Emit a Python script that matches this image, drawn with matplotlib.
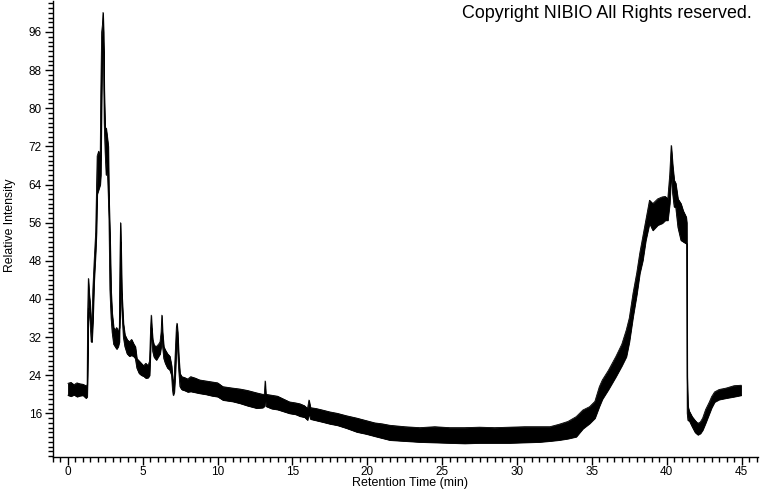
import matplotlib
matplotlib.use("Agg")
import matplotlib.pyplot as plt
from matplotlib.ticker import MultipleLocator, FixedLocator

# Retention time (min) and the observed lower / upper edge of the noisy trace (relative intensity)
time_min = [
    0.00, 0.20, 0.40, 0.60, 0.80, 1.00, 1.20, 1.28, 1.31, 1.36, 1.42, 1.48, 1.55, 1.60,
    1.66, 1.75, 1.85, 1.90, 1.95, 2.05, 2.15, 2.19, 2.25, 2.30, 2.34, 2.38, 2.42, 2.48,
    2.55, 2.62, 2.69, 2.74, 2.80, 2.88, 2.95, 3.05, 3.15, 3.25, 3.35, 3.43, 3.48, 3.51,
    3.55, 3.60, 3.70, 3.80, 3.95, 4.10, 4.25, 4.40, 4.50, 4.60, 4.75, 4.90, 5.05, 5.20,
    5.35, 5.45, 5.52, 5.56, 5.60, 5.66, 5.75, 5.90, 6.05, 6.15, 6.22, 6.27, 6.32, 6.40,
    6.50, 6.65, 6.80, 6.92, 6.98, 7.03, 7.10, 7.18, 7.24, 7.28, 7.33, 7.40, 7.48, 7.60,
    7.80, 8.00, 8.20, 8.50, 8.80, 9.20, 9.60, 10.00, 10.35, 11.00, 11.50, 12.00, 12.60,
    13.00, 13.12, 13.17, 13.22, 13.60, 14.00, 14.40, 14.80, 15.20, 15.50, 15.80, 16.00,
    16.10, 16.20, 16.60, 17.00, 17.50, 18.00, 18.60, 19.30, 19.90, 20.50, 21.00, 21.50,
    22.50, 23.50, 24.50, 25.50, 26.50, 27.50, 28.50, 29.50, 30.50, 31.50, 32.20, 32.80,
    33.40, 33.95, 34.40, 34.85, 35.20, 35.50, 35.70, 36.10, 36.60, 37.00, 37.30, 37.50,
    37.75, 38.00, 38.20, 38.40, 38.60, 38.85, 39.07, 39.40, 39.70, 39.90, 40.07, 40.20,
    40.30, 40.40, 40.50, 40.60, 40.75, 40.95, 41.10, 41.30, 41.34, 41.37, 41.42, 41.50,
    41.70, 41.90, 42.08, 42.25, 42.40, 42.60, 42.85, 43.00, 43.20, 43.50, 43.97, 44.50,
    44.97,
]
band_low = [
    19.8, 19.6, 19.9, 19.5, 19.7, 19.8, 19.2, 19.5, 24.0, 38.0, 37.0, 35.0, 31.0, 31.0,
    35.0, 44.0, 50.0, 54.0, 62.0, 63.0, 64.0, 66.0, 83.0, 94.0, 95.0, 90.0, 77.0, 71.0,
    66.0, 68.0, 62.0, 56.5, 42.0, 36.0, 33.0, 30.5, 30.0, 29.5, 30.0, 31.0, 40.0, 52.0,
    42.0, 37.6, 32.0, 30.0, 28.5, 28.0, 28.2, 27.9, 27.5, 25.5, 24.4, 24.0, 23.8, 23.4,
    23.5, 24.0, 30.0, 34.0, 32.0, 29.0, 27.8, 27.2, 28.0, 28.5, 30.0, 33.0, 30.0, 27.5,
    26.5, 25.5, 25.1, 24.0, 21.0, 19.8, 20.5, 25.0, 30.0, 33.0, 29.0, 25.0, 21.6, 21.0,
    20.8, 20.5, 20.6, 20.4, 20.2, 20.0, 19.7, 19.5, 18.8, 18.5, 18.1, 17.6, 17.1,
    17.2, 17.5, 20.0, 17.5, 17.0, 16.8, 16.4, 16.0, 15.8, 15.4, 15.2, 14.6,
    16.0, 14.8, 14.5, 14.2, 13.8, 13.5, 12.9, 12.1, 11.7, 11.2, 10.8, 10.4,
    10.2, 10.0, 9.9, 9.8, 9.7, 9.8, 9.8, 9.8, 9.9, 10.0, 10.2, 10.4,
    10.7, 11.1, 12.8, 13.9, 15.0, 17.5, 19.0, 21.0, 23.7, 26.0, 27.9, 31.0,
    36.3, 41.0, 45.4, 48.1, 52.3, 55.9, 54.4, 55.5, 55.9, 56.5, 56.5, 60.0,
    66.3, 62.0, 59.3, 59.3, 55.0, 52.3, 52.0, 51.6, 51.6, 16.0, 14.5, 14.5,
    13.2, 12.0, 11.5, 11.8, 12.5, 14.0, 16.0, 17.2, 18.4, 18.9, 19.2, 19.5,
    19.8,
]
band_high = [
    22.3, 22.5, 22.0, 22.4, 22.2, 22.1, 21.8, 22.0, 36.0, 44.3, 41.0, 39.0, 35.0, 33.0,
    42.0, 48.0, 54.0, 62.0, 70.0, 71.0, 69.0, 83.0, 96.0, 97.5, 100.1, 96.0, 84.0, 76.0,
    75.8, 74.0, 72.0, 60.7, 54.0, 41.5, 37.0, 34.0, 33.5, 34.0, 33.0, 34.0, 50.0, 56.0,
    50.0, 41.2, 34.9, 32.5, 31.5, 31.0, 31.5, 30.5, 30.0, 27.5, 27.0, 26.5, 26.0, 26.5,
    26.0, 27.0, 34.0, 36.6, 34.0, 31.5, 30.3, 30.0, 30.5, 31.0, 33.0, 36.6, 33.0, 30.0,
    29.3, 28.5, 28.0, 26.0, 23.5, 22.0, 24.0, 30.0, 34.0, 34.9, 33.0, 28.0, 24.4, 23.7,
    23.5, 23.2, 23.7, 23.4, 23.0, 22.8, 22.6, 22.4, 21.6, 21.3, 21.1, 20.8, 20.3,
    20.0, 20.0, 22.8, 20.0, 19.8, 19.6, 19.0, 18.4, 18.2, 18.0, 17.6, 17.0,
    18.8, 17.2, 17.0, 16.7, 16.3, 16.0, 15.5, 15.0, 14.5, 14.0, 13.8, 13.5,
    13.2, 13.0, 13.2, 13.0, 13.0, 13.1, 13.0, 13.1, 13.2, 13.2, 13.2, 13.7,
    14.3, 15.3, 16.7, 17.4, 18.5, 21.6, 23.0, 25.0, 27.9, 30.5, 33.5, 36.0,
    41.2, 45.5, 49.6, 53.0, 56.5, 60.7, 60.0, 61.0, 61.4, 61.5, 61.0, 66.0,
    72.2, 68.0, 64.9, 64.3, 61.0, 60.0, 58.5, 57.2, 56.0, 23.7, 17.5, 16.5,
    15.3, 14.5, 13.9, 14.2, 15.0, 16.8, 18.4, 19.5, 20.5, 21.0, 21.3, 21.8,
    21.9,
]

x_major = 5
x_minor = 0.5
y_ticks = [16, 24, 32, 40, 48, 56, 64, 72, 80, 88, 96]
x_label = "Retention Time (min)"
y_label = "Relative Intensity"
note = "Copyright NIBIO All Rights reserved."

plt.rcParams['font.family'] = ['Liberation Sans', 'DejaVu Sans']

fig = plt.figure(figsize=(7.6, 4.92), dpi=100)
ax = fig.add_axes([53 / 760, 1 - 456.5 / 492, (758 - 53) / 760, 455.5 / 492])

ax.fill_between(time_min, band_low, band_high, color='black', linewidth=0.6,
                edgecolor='black')
ax.plot(time_min, band_low, color='black', lw=0.6)
ax.plot(time_min, band_high, color='black', lw=0.6)

ax.set_xlim(-1.0, 46.1)
ax.set_ylim(6.95, 102.5)

ax.xaxis.set_major_locator(MultipleLocator(x_major))
ax.xaxis.set_minor_locator(MultipleLocator(x_minor))
ax.yaxis.set_major_locator(FixedLocator(y_ticks))
ax.yaxis.set_minor_locator(MultipleLocator(1))

for s in ['top', 'right']:
    ax.spines[s].set_visible(False)
for s in ['left', 'bottom']:
    ax.spines[s].set_linewidth(1.0)
    ax.spines[s].set_color('black')

ax.tick_params(axis='both', which='major', length=6, width=1, labelsize=8.5,
               direction='out', pad=2)
ax.tick_params(axis='x', which='major', pad=1)
ax.tick_params(axis='both', which='minor', length=3.5, width=1, direction='out')

ax.set_xlabel(x_label, fontsize=9)
ax.xaxis.set_label_coords((409.5 - 53) / 705, -0.046)
ax.set_ylabel(y_label, fontsize=8.8)
ax.yaxis.set_label_coords(-0.052, (456.5 - 225) / 455.5)

fig.text(752 / 760, 1 - 5 / 492, note, ha='right', va='top', fontsize=12.9)

fig.savefig("out.png", dpi=100)
